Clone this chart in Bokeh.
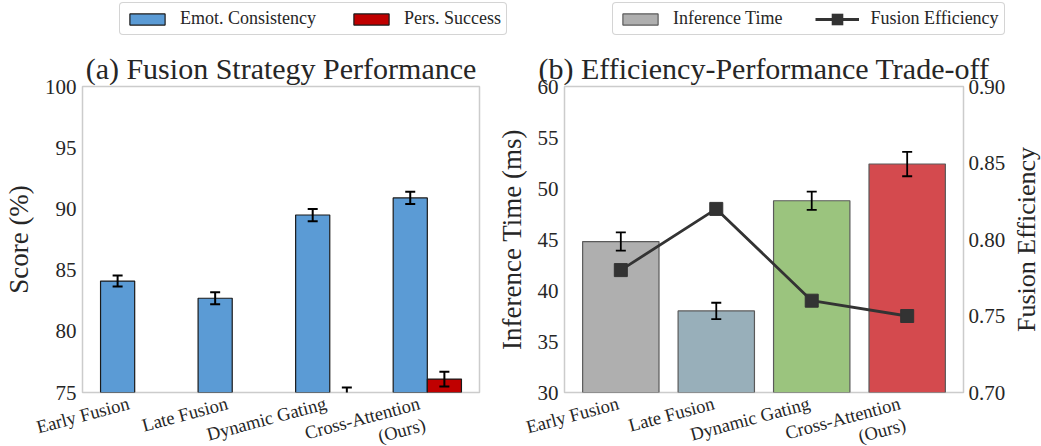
import math
from bokeh.plotting import figure
from bokeh.models import (Range1d, LinearAxis, FixedTicker, Legend, LegendItem,
                          ColumnDataSource, NumeralTickFormatter, CDSView, BooleanFilter)
from bokeh.core.properties import value
from bokeh.layouts import row, column
from bokeh.embed import file_html
from bokeh.resources import INLINE

# ---------------- data ----------------
strategies = ["Early Fusion", "Late Fusion", "Dynamic Gating", "Cross-Attention\n(Ours)"]

emot_consistency = [84.1, 82.7, 89.5, 90.9]
emot_err = [0.45, 0.5, 0.5, 0.5]
pers_success = [71.8, 72.6, 74.8, 76.1]
pers_err = [0.5, 0.5, 0.6, 0.6]

inference_time = [44.8, 38.0, 48.8, 52.4]
inference_err = [0.9, 0.8, 0.9, 1.2]
fusion_efficiency = [0.78, 0.82, 0.76, 0.75]
bar_colors = ["#afafaf", "#98afba", "#9bc47e", "#d44a4e"]

score_ticks = [75, 80, 85, 90, 95, 100]
time_ticks = [30, 35, 40, 45, 50, 55, 60]
eff_ticks = [0.70, 0.75, 0.80, 0.85, 0.90]

# ---------------- layout / style constants ----------------
FONT = "Liberation Serif"
TXT = "#262626"
LEG_H = 40          # legend strip height
P_TOP = 46          # space above each frame (title)
FRAME_H = 306
P_BOT = 12
STRIP_H = 54        # strip holding the rotated category labels
OVERLAP = 12
W1, L1, R1 = 490, 78, 11
RF_W = 30           # narrow strip holding the right axis title
W2, L2, R2 = 521, 74, 48
BLUE, RED = "#5b9bd5", "#c00000"
EDGE_A, EDGE_B = "#1a1a1a", "#5a5a5a"

idx = list(range(len(strategies)))


def base_fig(width, left, right, xr, yr, title):
    p = figure(width=width, height=P_TOP + FRAME_H + P_BOT, output_backend="svg",
               toolbar_location=None, x_range=xr, y_range=yr, x_axis_location=None,
               min_border_left=left, min_border_right=right,
               min_border_top=P_TOP, min_border_bottom=P_BOT, title=title)
    p.title.text_font = FONT
    p.title.text_font_size = "30px"
    p.title.text_font_style = "normal"
    p.title.text_color = TXT
    p.title.align = "center"
    p.title.standoff = 3
    p.outline_line_color = "#cccccc"
    p.outline_line_width = 1.5
    p.grid.visible = False
    return p


def style_axis(ax, label_size="27px"):
    ax.axis_line_color = None
    ax.major_tick_line_color = None
    ax.minor_tick_line_color = None
    ax.major_tick_out = 0
    ax.major_tick_in = 0
    ax.minor_tick_out = 0
    ax.minor_tick_in = 0
    ax.major_label_text_font = FONT
    ax.major_label_text_color = TXT
    ax.major_label_text_font_size = "21px"
    ax.major_label_standoff = 6
    ax.axis_label_text_font = FONT
    ax.axis_label_text_font_style = "normal"
    ax.axis_label_text_color = TXT
    ax.axis_label_text_font_size = label_size
    ax.axis_label_standoff = 8


def bare_fig(width, height, xr, yr, **kw):
    f = figure(width=width, height=height, output_backend="svg", toolbar_location=None,
               x_range=xr, y_range=yr, x_axis_location=None, y_axis_location=None,
               title=None, **kw)
    f.outline_line_color = None
    f.background_fill_alpha = 0
    f.border_fill_alpha = 0
    f.grid.visible = False
    return f


def label_strip(width, left, right, xr):
    sc = (width - left - right) / (xr.end - xr.start)
    s = bare_fig(width, STRIP_H, Range1d(xr.start - left / sc, xr.end + right / sc),
                 Range1d(-STRIP_H, 0), min_border=0)
    src = ColumnDataSource(dict(x=idx, y=[0] * len(idx), text=strategies,
                                xo=[-5 * (t.count("\n") + 1) for t in strategies]))
    s.text(x="x", y="y", text="text", source=src, angle=math.radians(15),
           text_align="right", text_baseline="top", x_offset="xo", y_offset=1,
           text_font=value(FONT), text_font_size=value("18.5px"), text_color=TXT,
           text_line_height=1.1)
    return s


def style_legend(lg):
    lg.orientation = "horizontal"
    lg.label_text_font = FONT
    lg.label_text_font_size = "18px"
    lg.label_text_color = TXT
    lg.glyph_width = 44
    lg.glyph_height = 14
    lg.label_standoff = 11
    lg.spacing = 33
    lg.padding = 5
    lg.margin = 0
    lg.border_line_color = "#aaaaaa"
    lg.border_line_width = 1.2
    lg.inactive_fill_alpha = 0
    if "border_radius" in lg.properties():
        lg.border_radius = 4


def bars_view(vals, floor):
    return CDSView(filter=BooleanFilter([v > floor for v in vals]))


# ---------------- panel (a) ----------------
p1 = base_fig(W1, L1, R1, Range1d(-0.535, 3.535), Range1d(score_ticks[0], score_ticks[-1]),
              "(a) Fusion Strategy Performance")
p1.yaxis.ticker = FixedTicker(ticks=score_ticks)
p1.yaxis.axis_label = "Score (%)"
style_axis(p1.yaxis[0])

w = 0.35
xe = [i - w / 2 for i in idx]
xp = [i + w / 2 for i in idx]
floor = p1.y_range.start
for xs, vals, errs, col in ((xe, emot_consistency, emot_err, BLUE),
                            (xp, pers_success, pers_err, RED)):
    bsrc = ColumnDataSource(dict(x=xs, top=vals))
    p1.vbar(x="x", top="top", bottom=0, width=w, source=bsrc, view=bars_view(vals, floor),
            fill_color=col, line_color=EDGE_A, line_width=1.2)
    lo = [v - e for v, e in zip(vals, errs)]
    hi = [v + e for v, e in zip(vals, errs)]
    p1.segment(x0=xs, y0=lo, x1=xs, y1=hi, line_color="black", line_width=2)
    p1.scatter(x=xs, y=lo, marker="dash", size=10, line_color="black", line_width=2)
    p1.scatter(x=xs, y=hi, marker="dash", size=10, line_color="black", line_width=2)

# ---------------- panel (b) ----------------
p2 = base_fig(W2, L2, R2, Range1d(-0.59, 3.59), Range1d(time_ticks[0], time_ticks[-1]),
              "(b) Efficiency-Performance Trade-off")
p2.yaxis.ticker = FixedTicker(ticks=time_ticks)
p2.yaxis.axis_label = "Inference Time (ms)"
style_axis(p2.yaxis[0])

eff_range = Range1d(eff_ticks[0], eff_ticks[-1])
p2.extra_y_ranges = {"eff": eff_range}
rax = LinearAxis(y_range_name="eff", ticker=FixedTicker(ticks=eff_ticks),
                 formatter=NumeralTickFormatter(format="0.00"))
style_axis(rax)
rax.major_label_standoff = 5
p2.add_layout(rax, "right")

src = ColumnDataSource(dict(x=idx, t=inference_time, c=bar_colors))
p2.vbar(x="x", top="t", bottom=0, width=0.8, source=src,
        fill_color="c", line_color=EDGE_B, line_width=1.2)
lo = [v - e for v, e in zip(inference_time, inference_err)]
hi = [v + e for v, e in zip(inference_time, inference_err)]
p2.segment(x0=idx, y0=lo, x1=idx, y1=hi, line_color="black", line_width=1.8)
p2.scatter(x=idx, y=lo, marker="dash", size=10, line_color="black", line_width=1.8)
p2.scatter(x=idx, y=hi, marker="dash", size=10, line_color="black", line_width=1.8)
p2.line(x=idx, y=fusion_efficiency, y_range_name="eff", line_color="#333333", line_width=2.8)
p2.scatter(x=idx, y=fusion_efficiency, y_range_name="eff", marker="square",
           size=13, fill_color="#333333", line_color="#333333")

# right axis title (reads bottom-to-top like the left one)
rf = bare_fig(RF_W, P_TOP + FRAME_H + P_BOT, Range1d(0, 1), eff_range,
              min_border_left=0, min_border_right=0,
              min_border_top=P_TOP, min_border_bottom=P_BOT)
rf.text(x=[0.5], y=[(eff_range.start + eff_range.end) / 2], text=["Fusion Efficiency"],
        angle=math.pi / 2, text_align="center", text_baseline="middle",
        text_font=value(FONT), text_font_size=value("26px"), text_color=TXT)

# ---------------- legend strip ----------------
lf = bare_fig(W1 + W2 + RF_W, LEG_H, Range1d(0, 1), Range1d(0, 1), min_border=0)
lf.background_fill_alpha = 1
lf.border_fill_alpha = 1
g_emot = lf.vbar(x=xe, top=emot_consistency, width=w, fill_color=BLUE,
                 line_color=EDGE_A, line_width=1.2, visible=False)
g_pers = lf.vbar(x=xp, top=pers_success, width=w, fill_color=RED,
                 line_color=EDGE_A, line_width=1.2, visible=False)
g_time = lf.vbar(x=idx, top=inference_time, width=0.8, fill_color=bar_colors[0],
                 line_color=EDGE_B, line_width=1.2, visible=False)
g_line = lf.line(x=idx, y=fusion_efficiency, line_color="#333333", line_width=2.8, visible=False)
# legend markers are drawn at 0.4 x glyph height; a thick mitred outline brings the key
# square up to the size of the plotted markers
g_sq = lf.scatter(x=idx, y=fusion_efficiency, marker="square", size=13,
                  fill_color="#333333", line_color="#333333", line_width=6,
                  line_join="miter", visible=False)

lg1 = Legend(items=[LegendItem(label="Emot. Consistency", renderers=[g_emot]),
                    LegendItem(label="Pers. Success", renderers=[g_pers])],
             location=(119, 5))
lg2 = Legend(items=[LegendItem(label="Inference Time", renderers=[g_time]),
                    LegendItem(label="Fusion Efficiency", renderers=[g_line, g_sq])],
             location=(612, 5))
for lg in (lg1, lg2):
    style_legend(lg)
    lf.add_layout(lg)

s1 = label_strip(W1, L1, R1, p1.x_range)
s2 = label_strip(W2, L2, R2, p2.x_range)

layout = column(lf, row(p1, p2, rf), row(s1, s2, margin=(-OVERLAP, 0, 0, 0)))
open("out.html", "w").write(file_html(layout, INLINE))
